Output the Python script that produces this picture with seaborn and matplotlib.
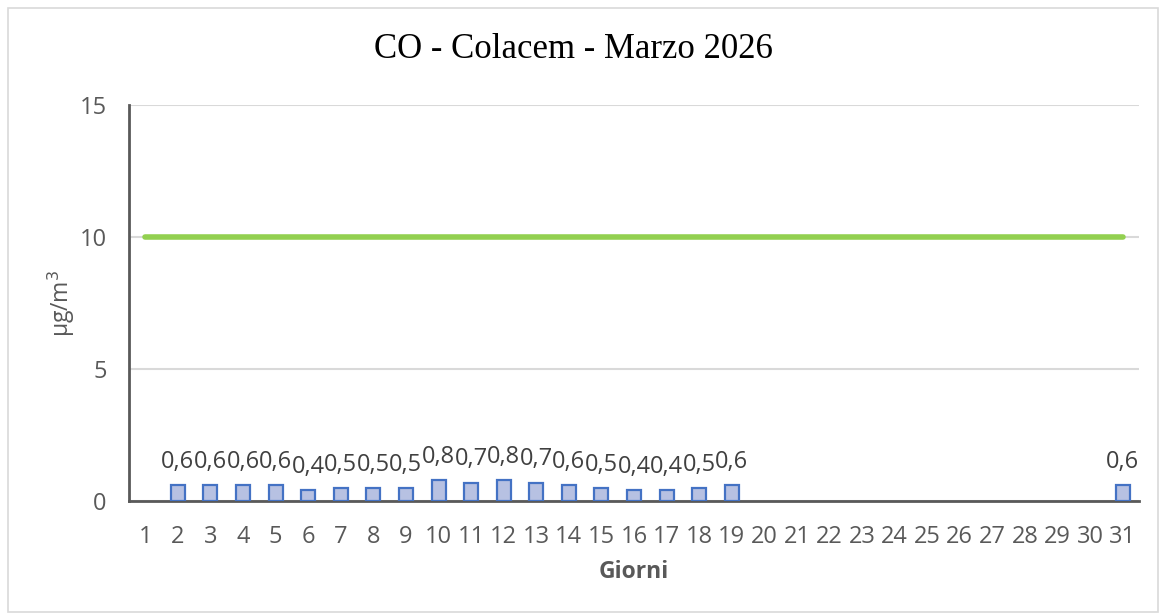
import numpy as np
import pandas as pd
import matplotlib
matplotlib.use("Agg")
import matplotlib.pyplot as plt
import seaborn as sns
from matplotlib.patches import Rectangle

giorni = [str(d) for d in range(1, 32)]
co_valori = [np.nan, 0.6, 0.6, 0.6, 0.6, 0.4, 0.5, 0.5, 0.5, 0.8, 0.7, 0.8, 0.7, 0.6,
             0.5, 0.4, 0.4, 0.5, 0.6, np.nan, np.nan, np.nan, np.nan, np.nan, np.nan,
             np.nan, np.nan, np.nan, np.nan, np.nan, 0.6]
limite = [10] * 31
y_ticks = [0, 5, 10, 15]

sns.set_theme(style="white")
plt.rcParams["font.family"] = ["Open Sans", "DejaVu Sans"]

df = pd.DataFrame({"giorno": giorni, "co": co_valori, "limite": limite})
df["pos"] = np.arange(len(df))

fig = plt.figure(figsize=(11.6, 6.14), dpi=100)
fig.patches.append(Rectangle((8 / 1160, 2 / 614), 1150 / 1160, 604 / 614,
                             transform=fig.transFigure, fill=False,
                             edgecolor="#d9d9d9", linewidth=1.2))
ax = fig.add_axes([129 / 1160, 1 - 501 / 614, 1010 / 1160, 396 / 614])

sns.barplot(data=df.dropna(subset=["co"]), x="giorno", y="co", order=giorni,
            color="#b7c1e2", edgecolor="#4472c4", linewidth=1.6, width=0.43,
            saturation=1, ax=ax, zorder=3)
sns.lineplot(data=df, x="pos", y="limite", color="#92d050", linewidth=4,
             solid_capstyle="round", ax=ax, zorder=4)

for cont in ax.containers:
    labels = [f"{b.get_height():.1f}".replace(".", ",") for b in cont]
    ax.bar_label(cont, labels=labels, padding=8, fontsize=17, color="#404040")

ax.set_xlim(-0.5, len(giorni) - 0.5)
ax.set_ylim(0, 15)
ax.set_yticks(y_ticks)
ax.set_xticks(range(len(giorni)))
ax.set_xticklabels(giorni)
ax.grid(axis="y", color="#d9d9d9", linewidth=1.5, zorder=0)
ax.set_axisbelow(True)
for side in ["top", "right"]:
    ax.spines[side].set_visible(False)
for side in ["left", "bottom"]:
    ax.spines[side].set_color("#595959")
    ax.spines[side].set_linewidth(2)
ax.tick_params(axis="x", length=0, pad=17, labelsize=17, labelcolor="#595959")
ax.tick_params(axis="y", length=0, pad=16, labelsize=17, labelcolor="#595959")

ax.set_xlabel("Giorni", fontsize=16.5, fontweight="bold", color="#595959", labelpad=8)
ax.set_ylabel("µg/m$^3$", fontsize=16.5, color="#595959", labelpad=2)
fig.text(0.494, 1 - 50 / 614, "CO - Colacem - Marzo 2026", ha="center", va="center",
         fontsize=25, family=["Liberation Serif", "DejaVu Serif"], color="#000000")

fig.savefig("out.png", dpi=100)
